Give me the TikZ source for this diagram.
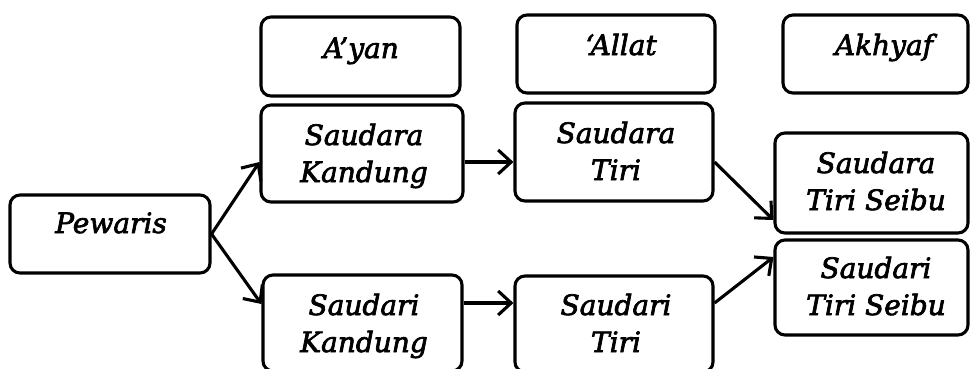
\documentclass[tikz,border=0pt]{standalone}
\usepackage{fontspec}
\setmainfont{DejaVu Serif}
\usetikzlibrary{arrows.meta}
\tikzset{
  x=1pt, y=-1pt,
  box/.style={draw, line width=3.1pt, rounded corners=10pt, inner sep=0pt},
  txt/.style={font=\fontsize{28}{37}\selectfont\itshape\addfontfeature{FakeBold=2.5}, align=center, inner sep=0pt, anchor=base},
  arr/.style={line width=3.1pt, -{Straight Barb[length=13pt,width=24pt,line width=3.1pt]}}
}
\begin{document}
\begin{tikzpicture}
\useasboundingbox (0,0) rectangle (970,368);
% boxes, given by their centres and sizes
\node[box, minimum width=200pt, minimum height=78pt] (pew) at (110,234) {};
\node[box, minimum width=199pt, minimum height=79pt] (ayan) at (360.5,56.5) {};
\node[box, minimum width=198pt, minimum height=78pt] (allat) at (616,54) {};
\node[box, minimum width=185pt, minimum height=78pt] (akh) at (875.5,54) {};
\node[box, minimum width=202pt, minimum height=97pt] (sak) at (362,153.5) {};
\node[box, minimum width=198pt, minimum height=98pt] (sat) at (614,152) {};
\node[box, minimum width=193pt, minimum height=100pt] (sats) at (871.5,183) {};
\node[box, minimum width=193pt, minimum height=95pt] (sits) at (871.5,287.5) {};
\node[box, minimum width=198pt, minimum height=96pt] (sit) at (614,324) {};
\node[box, minimum width=199pt, minimum height=96pt] (sik) at (362.5,323) {};
% labels (anchored at the baseline of their last line)
\node[txt] (tpew) at (111,233) {Pewaris};
\node[txt] (tayan) at (361,58) {A’yan};
\node[txt] (tallat) at (621,55) {‘Allat};
\node[txt] (takh) at (884,55) {Akhyaf};
\node[txt] (tsak) at (364,182) {Saudara\\Kandung};
\node[txt] (tsat) at (616,180) {Saudara\\Tiri};
\node[txt] (tsats) at (876,210) {Saudara\\Tiri Seibu};
\node[txt] (tsits) at (876,315) {Saudari\\Tiri Seibu};
\node[txt] (tsit) at (616,352) {Saudari\\Tiri};
\node[txt] (tsik) at (364,352) {Saudari\\Kandung};
% connectors
\draw[arr] (pew.east) -- (sak.west |- 0,162);
\draw[arr] (pew.east) -- (sik.west |- 0,304);
\draw[arr] (sak.east |- 0,162) -- (sat.west |- 0,162);
\draw[arr] (sik.east |- 0,303) -- (sit.west |- 0,303);
\draw[arr] (sat.east |- 0,162) -- (sats.west |- 0,220);
\draw[arr] (sit.east |- 0,303) -- (sits.west |- 0,257);
\end{tikzpicture}
\end{document}
